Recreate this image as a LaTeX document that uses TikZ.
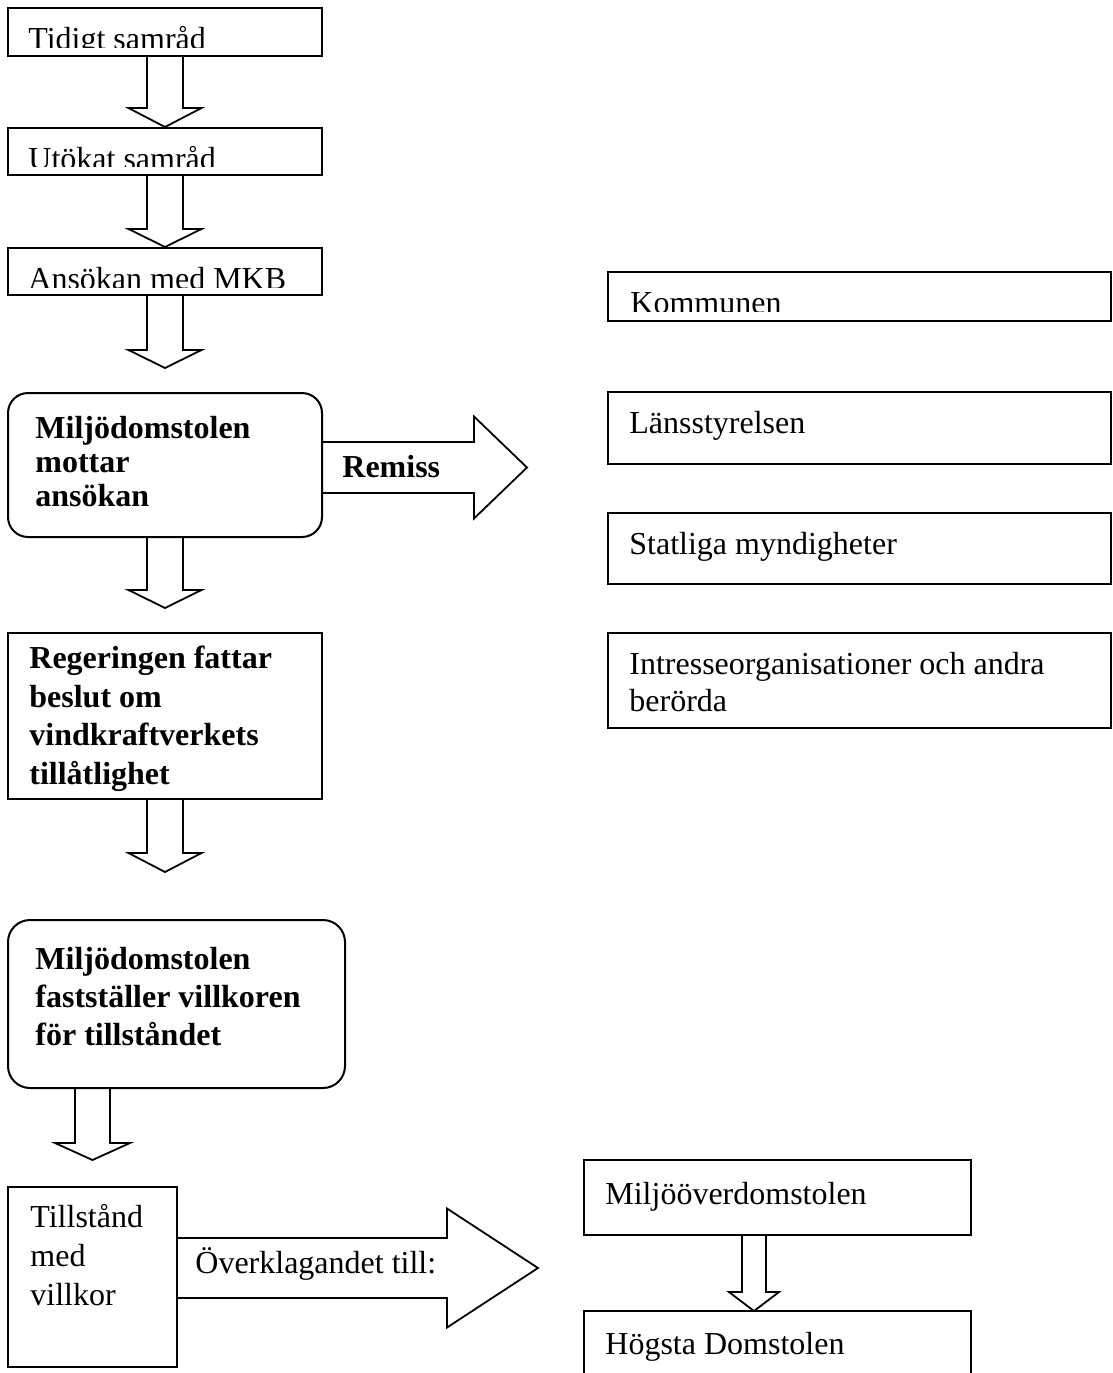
\documentclass[tikz,border=0pt]{standalone}
\usepackage{fontspec}
\setmainfont{Liberation Serif}
\usetikzlibrary{fit,calc}
\tikzset{
  box/.style={draw, line width=1pt, inner sep=0pt},
  rbox/.style={box, rounded corners=10pt},
  txt/.style={anchor=base west, inner sep=0pt, font=\fontsize{16}{18.5}\selectfont},
  btxt/.style={anchor=base west, inner sep=0pt, font=\fontsize{16}{18.5}\selectfont\bfseries},
  blk/.style={draw, line width=0.9pt, line join=miter},
}
\newcommand{\blockdown}[5]{%
  \draw[blk] ($(#1)+(-#3,0)$) -- ($(#2)+(-#3,-#5)$) -- ($(#2)+(-#4,-#5)$) -- (#2)
    -- ($(#2)+(#4,-#5)$) -- ($(#2)+(#3,-#5)$) -- ($(#1)+(#3,0)$);}
\newcommand{\blockright}[5]{%
  \draw[blk] ($(#1)+(0,-#3)$) -- ($(#2)+(-#5,-#3)$) -- ($(#2)+(-#5,-#4)$) -- (#2)
    -- ($(#2)+(-#5,#4)$) -- ($(#2)+(-#5,#3)$) -- ($(#1)+(0,#3)$);}
\begin{document}
\begin{tikzpicture}[x=0.5pt,y=-0.5pt]
\useasboundingbox (0,0) rectangle (1113,1373);
\clip (0,0) rectangle (1113,1373);

% left column boxes
\node[box, fit={(8,8) (322,56)}] (b1) {};
\node[box, fit={(8,128) (322,175)}] (b2) {};
\node[box, fit={(8,248) (322,295)}] (b3) {};
\node[rbox, fit={(8,393) (322,537)}] (b4) {};
\node[box, fit={(8,633) (322,799)}] (b5) {};
\node[rbox, rounded corners=11pt, fit={(8,920) (345,1088)}] (b6) {};
\node[box, fit={(8,1187) (177,1367)}] (b7) {};

% right column boxes
\node[box, fit={(608,272) (1111,321)}] (k1) {};
\node[box, fit={(608,392) (1111,464)}] (k2) {};
\node[box, fit={(608,513) (1111,584)}] (k3) {};
\node[box, fit={(608,633) (1111,728)}] (k4) {};
\node[box, fit={(584,1160) (971,1235)}] (m1) {};
\node[box, fit={(584,1311) (971,1420)}] (m2) {};

% texts (clipped where the original is clipped)
\begin{scope}
  \clip (8,8) rectangle (322,47);
  \node[txt] (t1) at (28,49.5) {Tidigt samråd};
\end{scope}
\begin{scope}
  \clip (8,128) rectangle (322,166);
  \node[txt] (t2) at (28,169.5) {Utökat samråd};
\end{scope}
\begin{scope}
  \clip (8,248) rectangle (322,287);
  \node[txt] (t3) at (28,289.5) {Ansökan med MKB};
\end{scope}
\begin{scope}
  \clip (608,272) rectangle (1111,311);
  \node[txt] (tk1) at (630,313) {Kommunen};
\end{scope}

\node[btxt] (t4a) at (35,438) {Miljödomstolen};
\node[btxt] (t4b) at (35,472) {mottar};
\node[btxt] (t4c) at (35,506) {ansökan};

\begin{scope}
  \clip (8,633) rectangle (322,797);
  \node[btxt] (t5a) at (29,668.5) {Regeringen fattar};
  \node[btxt] (t5b) at (29,707) {beslut om};
  \node[btxt] (t5c) at (29,745.5) {vindkraftverkets};
  \node[btxt] (t5d) at (29,784) {tillåtlighet};
\end{scope}

\node[btxt] (t6a) at (35,969.5) {Miljödomstolen};
\node[btxt] (t6b) at (35,1007.5) {fastställer villkoren};
\node[btxt] (t6c) at (35,1045) {för tillståndet};

\node[txt] (t7a) at (30,1227) {Tillstånd};
\node[txt] (t7b) at (30,1266) {med};
\node[txt] (t7c) at (30,1305) {villkor};

\node[txt] (tk2) at (629,433) {Länsstyrelsen};
\node[txt] (tk3) at (629,554) {Statliga myndigheter};
\node[txt] (tk4a) at (629,674.5) {Intresseorganisationer och andra};
\node[txt] (tk4b) at (629,711.5) {berörda};
\node[txt] (tm1) at (605,1204) {Miljööverdomstolen};
\node[txt] (tm2) at (605,1354) {Högsta Domstolen};

% block arrows
\blockdown{b1.south}{b2.north}{18}{36.5}{19}
\blockdown{b2.south}{b3.north}{18}{36.5}{18}
\coordinate (tip3) at (165,368);
\blockdown{b3.south}{tip3}{18}{36.5}{18}
\coordinate (tip4) at (165,608);
\blockdown{b4.south}{tip4}{18}{36.5}{18}
\coordinate (tip5) at (165,872);
\blockdown{b5.south}{tip5}{18}{36.5}{19}
\coordinate (tip6) at (92.5,1160);
\coordinate (s6) at (b6.south -| tip6);
\blockdown{s6}{tip6}{17.5}{37.5}{17}
\coordinate (tip7) at (754,1311);
\coordinate (s7) at (m1.south -| tip7);
\blockdown{s7}{tip7}{12}{25}{19}

\coordinate (remtip) at (527,467.5);
\coordinate (rs) at (b4.east |- remtip);
\blockright{rs}{remtip}{25.5}{51}{53}
\node[btxt] (trem) at (342,477) {Remiss};

\coordinate (overtip) at (538,1268);
\coordinate (os) at (b7.east |- overtip);
\blockright{os}{overtip}{30}{59.5}{91}
\node[txt] (tover) at (195,1273) {Överklagandet till:};
\end{tikzpicture}
\end{document}
